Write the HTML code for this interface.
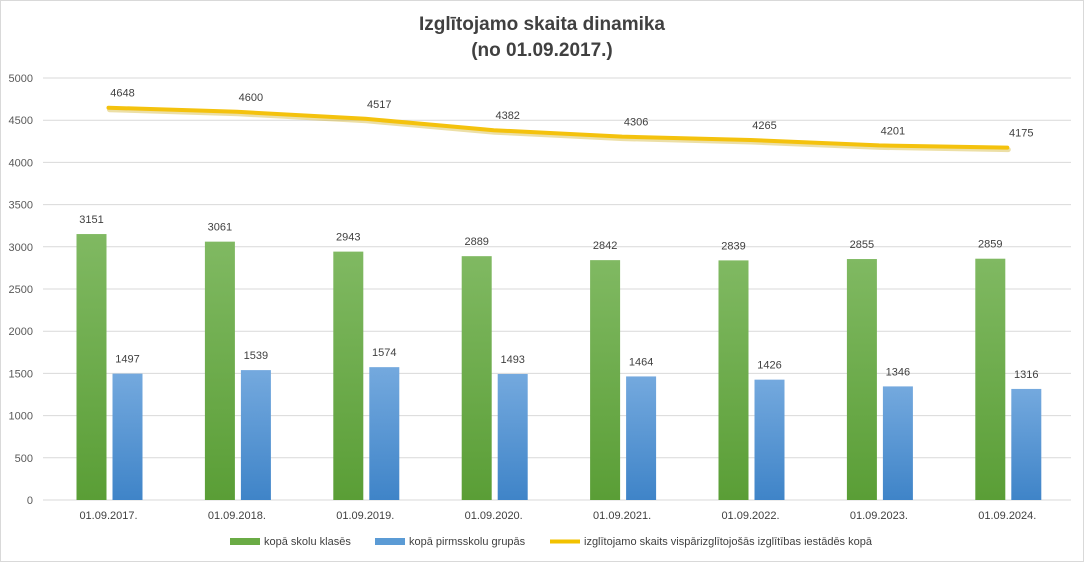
<!DOCTYPE html>
<html><head><meta charset="utf-8"><style>
body{margin:0;background:#fff;}
svg{display:block;font-family:"Liberation Sans",Arial,sans-serif;}
</style></head><body>
<svg id="c" width="1084" height="562" xmlns="http://www.w3.org/2000/svg">
<defs>
<linearGradient id="g" x1="0" y1="0" x2="0" y2="1"><stop offset="0" stop-color="#80b962"/><stop offset="1" stop-color="#5a9e36"/></linearGradient>
<linearGradient id="b" x1="0" y1="0" x2="0" y2="1"><stop offset="0" stop-color="#74a9de"/><stop offset="1" stop-color="#3f84c8"/></linearGradient>
</defs>
<rect x="0.5" y="0.5" width="1083" height="561" fill="#fff" stroke="#d9d9d9"/>
<text x="542" y="30" text-anchor="middle" font-size="19" font-weight="bold" fill="#404040">Izglītojamo  skaita dinamika</text>
<text x="542" y="56" text-anchor="middle" font-size="19" font-weight="bold" fill="#404040">(no 01.09.2017.)</text>
<g id="grid"></g>
<g id="bars"></g>
<g id="legend" font-size="11" fill="#404040">
<rect x="230" y="538" width="30" height="7" fill="#6aab45"/><text x="264" y="545">kopā skolu klasēs</text>
<rect x="375" y="538" width="30" height="7" fill="#5b9bd5"/><text x="409" y="545">kopā pirmsskolu grupās</text>
<line x1="550" y1="541.5" x2="580" y2="541.5" stroke="#f2c200" stroke-width="4"/><text x="584" y="545">izglītojamo skaits vispārizglītojošās izglītības iestādēs kopā</text>
</g>
</svg>
<script>
var ns="http://www.w3.org/2000/svg";
function el(p,t,a,txt){var e=document.createElementNS(ns,t);for(var k in a)e.setAttribute(k,a[k]);if(txt!=null)e.textContent=txt;p.appendChild(e);return e;}
var Y=function(v){return 500-v*0.0844;};
var grid=document.getElementById('grid'),bars=document.getElementById('bars');
for(var v=0;v<=5000;v+=500){var y=Y(v);el(grid,'line',{x1:43,x2:1071,y1:y,y2:y,stroke:'#d9d9d9','stroke-width':1});
el(grid,'text',{x:33,y:y+4,'text-anchor':'end','font-size':11,fill:'#595959'},v);}
var G=[3151,3061,2943,2889,2842,2839,2855,2859],B=[1497,1539,1574,1493,1464,1426,1346,1316],L=[4648,4600,4517,4382,4306,4265,4201,4175];
var pts=[];
for(var i=0;i<8;i++){var cx=108.5+128.4*i;
el(bars,'rect',{x:cx-32,y:Y(G[i]),width:30,height:500-Y(G[i]),fill:'url(#g)'});
el(bars,'rect',{x:cx+4,y:Y(B[i]),width:30,height:500-Y(B[i]),fill:'url(#b)'});
el(bars,'text',{x:cx-17,y:Y(G[i])-11,'text-anchor':'middle','font-size':11,fill:'#404040'},G[i]);
el(bars,'text',{x:cx+19,y:Y(B[i])-11,'text-anchor':'middle','font-size':11,fill:'#404040'},B[i]);
el(bars,'text',{x:cx,y:519,'text-anchor':'middle','font-size':11,fill:'#404040'},'01.09.'+(2017+i)+'.');
pts.push(cx+','+Y(L[i]).toFixed(1));
el(bars,'text',{x:cx+14,y:Y(L[i])-11,'text-anchor':'middle','font-size':11,fill:'#404040'},L[i]);}
el(bars,'polyline',{points:pts.join(' '),fill:'none',stroke:'#c9a200','stroke-width':5,'stroke-linecap':'round','stroke-linejoin':'round',opacity:0.35,transform:'translate(1,2)'});
el(bars,'polyline',{points:pts.join(' '),fill:'none',stroke:'#f4c20d','stroke-width':4,'stroke-linecap':'round','stroke-linejoin':'round'});
</script>
</body></html>
